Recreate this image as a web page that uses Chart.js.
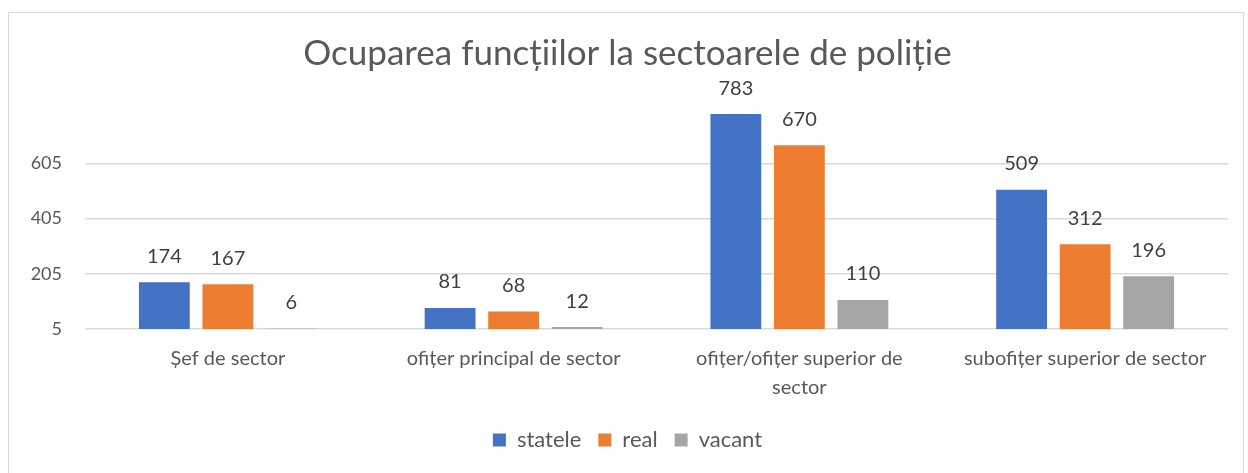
<!DOCTYPE html>
<html>
<head>
<meta charset="utf-8">
<script src="https://cdn.jsdelivr.net/npm/chart.js@4"></script>
<style>
  html, body { margin: 0; padding: 0; background: #fff; }
  #wrap { position: relative; width: 1248px; height: 473px; }
  #frame { position: absolute; left: 8px; top: 12px; width: 1236px; height: 470px; border: 1px solid #d9d9d9; box-sizing: border-box; }
  canvas { position: absolute; left: 0; top: 0; }
</style>
</head>
<body>
<div id="wrap">
  <div id="frame"></div>
  <canvas id="chart" width="1248" height="473"></canvas>
</div>
<script>
// date
const categories = ['Șef de sector', 'ofițer principal de sector', ['ofițer/ofițer superior de', 'sector'], 'subofițer superior de sector'];
const statele = [174, 81, 783, 509];
const real = [167, 68, 670, 312];
const vacant = [6, 12, 110, 196];
const yTicks = [5, 205, 405, 605];

const FONT = 'Lato, "Open Sans", sans-serif';

// eticheta cu valoarea deasupra fiecarei bare
const valueLabels = {
  id: 'valueLabels',
  afterDatasetsDraw(chart) {
    const ctx = chart.ctx;
    ctx.save();
    ctx.font = '20px ' + FONT;
    ctx.fillStyle = '#404040';
    ctx.textAlign = 'center';
    ctx.textBaseline = 'middle';
    chart.data.datasets.forEach((ds, i) => {
      const meta = chart.getDatasetMeta(i);
      meta.data.forEach((bar, j) => {
        ctx.fillText(ds.data[j], bar.x, bar.y - 26);
      });
    });
    ctx.restore();
  }
};

const ctx = document.getElementById('chart').getContext('2d');
new Chart(ctx, {
  type: 'bar',
  data: {
    labels: categories,
    datasets: [
      { label: 'statele', data: statele, backgroundColor: '#4472C4' },
      { label: 'real', data: real, backgroundColor: '#ED7D31' },
      { label: 'vacant', data: vacant, backgroundColor: '#A5A5A5' }
    ]
  },
  options: {
    responsive: false,
    animation: false,
    datasets: { bar: { categoryPercentage: 0.667, barPercentage: 0.80 } },
    layout: { padding: { left: 27, right: 20, top: 0, bottom: 12 } },
    plugins: {
      title: {
        display: true,
        text: 'Ocuparea funcțiilor la sectoarele de poliție',
        color: '#595959',
        font: { family: FONT, size: 35, weight: 'normal' },
        padding: { top: 33, bottom: 33 }
      },
      legend: {
        position: 'bottom',
        labels: {
          color: '#595959',
          font: { family: FONT, size: 22 },
          boxWidth: 13,
          boxHeight: 13,
          padding: 17
        }
      },
      tooltip: { enabled: false }
    },
    scales: {
      y: {
        min: 5,
        max: 805,
        afterBuildTicks: axis => {
          axis.ticks = yTicks.concat([805]).map(v => ({ value: v }));
        },
        afterFit: axis => { axis.width = 58; },
        border: { display: false },
        grid: {
          color: c => (c.tick && c.tick.value === 805) ? 'rgba(0,0,0,0)' : '#d9d9d9',
          lineWidth: 1.5,
          drawTicks: false
        },
        ticks: {
          color: '#595959',
          font: { family: FONT, size: 18 },
          padding: 23,
          callback: v => (v === 805 ? '' : v)
        }
      },
      x: {
        afterFit: axis => { axis.height = 83; },
        border: { display: false },
        grid: { display: false },
        ticks: {
          color: '#595959',
          font: { family: FONT, size: 20, lineHeight: 1.45 },
          padding: 7,
          maxRotation: 0,
          autoSkip: false
        }
      }
    }
  },
  plugins: [valueLabels]
});
</script>
</body>
</html>
